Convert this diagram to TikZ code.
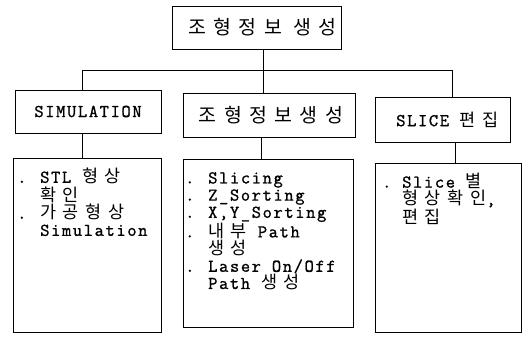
\documentclass[tikz,border=0pt]{standalone}
\usepackage{fontspec}
\setmainfont{Latin Modern Mono}[LetterSpace=9,FakeBold=1.2]
\newfontfamily\krfont{Noto Sans CJK KR}[Scale=0.97,LetterSpace=38]
\newcommand\kr[1]{{\krfont #1}}
\newcommand\bl[1][23pt]{\makebox[#1][l]{.}}
\newcommand\ind[1][23pt]{\hspace*{#1}}
\begin{document}
\begin{tikzpicture}[x=1pt,y=-1pt,
  every node/.style={font=\fontsize{18}{17.2}\selectfont},
  box/.style={draw, line width=1pt, inner sep=0pt},
  txt/.style={align=left, inner sep=0pt, anchor=north west},
  lnk/.style={line width=1pt}]
\useasboundingbox (0,0) rectangle (526,338);
% top box
\node[box, minimum width=169pt, minimum height=43pt] (top) at (256.5,27.5) {\hspace*{12pt}{\krfont\addfontfeatures{Scale=1.08}조형정보 생성}};
% second row
\node[box, minimum width=146pt, minimum height=43pt] (sim) at (88,111.5) {SIMULATION};
\node[box, minimum width=172pt, minimum height=44pt] (mid) at (269,115) {\hspace*{4pt}{\krfont\addfontfeatures{Scale=1.08}조형정보생성}};
\node[box, minimum width=135pt, minimum height=45pt] (sli) at (442.5,119.5) {\hspace*{10pt}SLICE \kr{편집}};
% lower boxes
\node[box, minimum width=148pt, minimum height=174pt] (l1) at (87,245) {};
\node[box, minimum width=170pt, minimum height=168pt] (l2) at (268,243) {};
\node[box, minimum width=146pt, minimum height=169pt] (l3) at (448,247.5) {};
% connectors
\coordinate (j) at (263,70);
\coordinate (jl) at (82,70);
\coordinate (jr) at (452,70);
\draw[lnk] (top.south -| j) -- (j);
\draw[lnk] (jl) -- (jr);
\draw[lnk] (jl) -- (jl |- sim.north);
\draw[lnk] (j) -- (j |- mid.north);
\draw[lnk] (jr) -- (jr |- sli.north);
\coordinate (c1) at (82,0);
\coordinate (c2) at (261,0);
\coordinate (c3) at (455,0);
\draw[lnk] (c1 |- sim.south) -- (c1 |- l1.north);
\draw[lnk] (c2 |- mid.south) -- (c2 |- l2.north);
\draw[lnk] (c3 |- sli.south) -- (c3 |- l3.north);
% texts
\node[txt] (t1) at (17,168) {\bl STL \kr{형상}\\[1.5pt] \ind\kr{확인}\\ \bl\kr{가공형상}\\ \ind Simulation};
\node[txt] (t2) at (185,172) {\bl Slicing\\ \bl Z\_Sorting\\ \bl X,Y\_Sorting\\ \bl\kr{내부} Path\\ \ind\kr{생성}\\ \bl Laser On/Off\\ \ind Path \kr{생성}};
\node[txt] (t3) at (382,173) {\bl[20pt]Slice \kr{별}\\ \ind[20pt]\kr{형상확인},\\[1.5pt] \ind[20pt]\kr{편집}};
\end{tikzpicture}
\end{document}
